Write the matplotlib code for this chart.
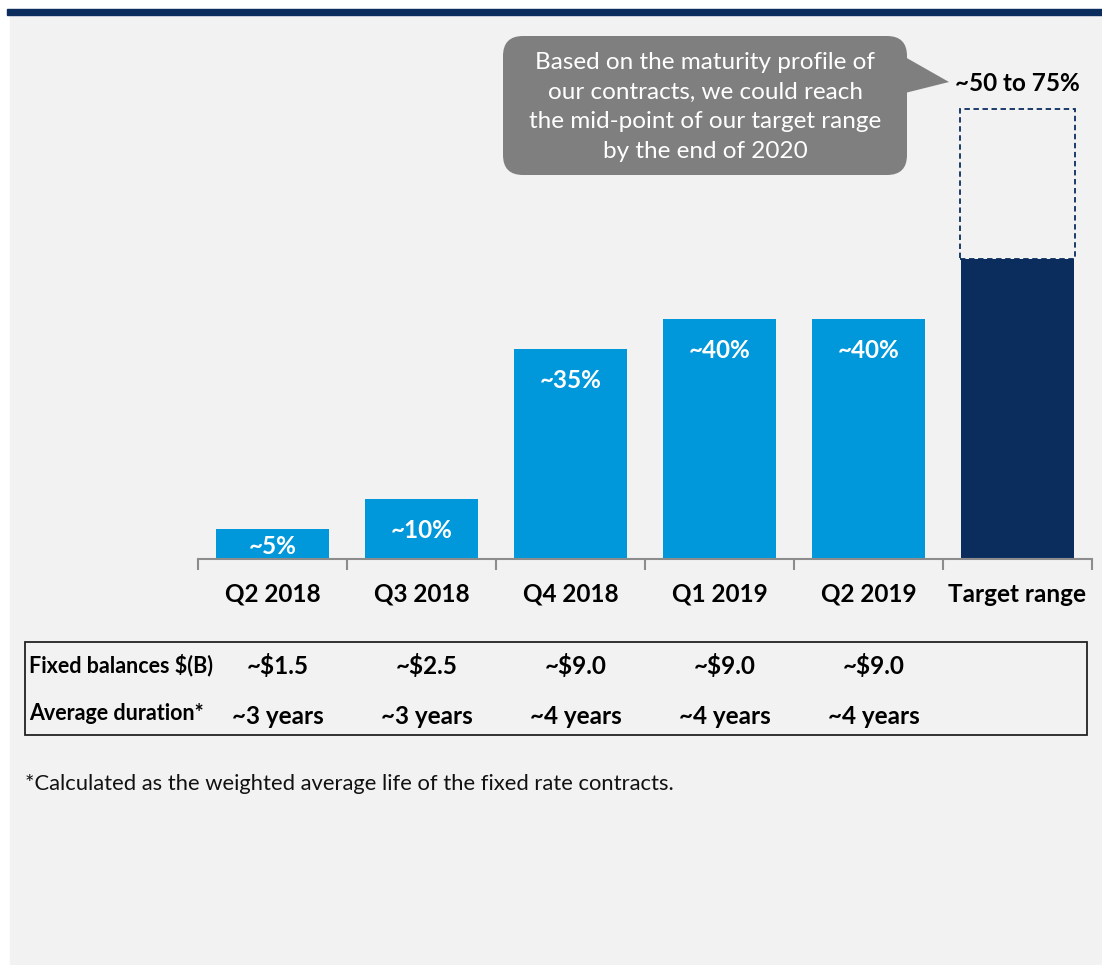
import matplotlib.pyplot as plt
from matplotlib.patches import FancyBboxPatch, Polygon, Rectangle
from matplotlib import transforms

plt.rcParams['font.family'] = ['Lato', 'DejaVu Sans']

# data
categories = ['Q2 2018', 'Q3 2018', 'Q4 2018', 'Q1 2019', 'Q2 2019', 'Target range']
values = [5, 10, 35, 40, 40, 50]
value_labels = ['~5%', '~10%', '~35%', '~40%', '~40%', '']
target_low = 50
target_high = 75
target_label = '~50 to 75%'
balances = ['~$1.5', '~$2.5', '~$9.0', '~$9.0', '~$9.0']
durations = ['~3 years', '~3 years', '~4 years', '~4 years', '~4 years']
callout = ('Based on the maturity profile of\nour contracts, we could reach\n'
           'the mid-point of our target range\nby the end of 2020')
footnote = '*Calculated as the weighted average life of the fixed rate contracts.'

LIGHT = '#0098da'
NAVY = '#0b2d5e'
BG = '#f2f2f2'
W, H = 1102, 965
FS = 17.5

fig = plt.figure(figsize=(W / 100, H / 100), dpi=100)
fig.patch.set_facecolor('white')

# overlay axes in pixel coordinates for the decorations
ov = fig.add_axes([0, 0, 1, 1])
ov.set_xlim(0, W)
ov.set_ylim(H, 0)
ov.axis('off')
ov.add_patch(Rectangle((10, 15), W - 10, H - 15, color=BG, zorder=0))
ov.add_patch(Rectangle((7, 9), W - 7, 6, color=NAVY, zorder=1))

# callout bubble
ov.add_patch(FancyBboxPatch((521, 54), 368, 103, boxstyle='round,pad=18,rounding_size=20',
                            facecolor='#7f7f7f', edgecolor='none', zorder=2))
ov.add_patch(Polygon([(905, 57), (949, 82), (905, 93)], closed=True,
                     facecolor='#7f7f7f', edgecolor='none', zorder=2))
ov.text(705, 107, callout, color='white', fontsize=FS, ha='center', va='center',
        linespacing=1.52, zorder=3)

# table frame and footnote
ov.add_patch(Rectangle((25, 642), 1062, 93, fill=False, edgecolor='#222222', lw=1.3, zorder=2))
ov.text(29, 665, 'Fixed balances $(B)', fontsize=15.5, fontweight='bold', ha='left', va='center')
ov.text(29, 713, 'Average duration*', fontsize=15.5, fontweight='bold', ha='left', va='center')
ov.text(25, 784, footnote, fontsize=15.8, ha='left', va='center', color='#111111')

# main chart
ax = fig.add_axes([198 / W, (H - 559) / H, 894 / W, 480 / H])
ax.patch.set_alpha(0)
x = list(range(len(categories)))
colors = [LIGHT] * 5 + [NAVY]
ax.bar(x, values, width=0.765, color=colors, zorder=2)
ax.bar(x[-1], target_high - target_low, bottom=target_low, width=0.775, fill=False,
       edgecolor=NAVY, linestyle=(0, (3, 2)), linewidth=1.3, zorder=2)

for i, (v, lab) in enumerate(zip(values, value_labels)):
    if lab:
        ax.text(i, max(v - 5.2, 2.0), lab, color='white', fontsize=FS, fontweight='bold',
                ha='center', va='center', zorder=3)
ax.text(x[-1], target_high + 4.2, target_label, fontsize=FS, fontweight='bold',
        ha='center', va='center')

ax.set_xlim(-0.5, 5.5)
ax.set_ylim(0, 80)
for s in ['top', 'right', 'left']:
    ax.spines[s].set_visible(False)
ax.spines['bottom'].set_color('#8c8c8c')
ax.spines['bottom'].set_linewidth(1.5)
ax.set_yticks([])
ax.set_xticks([i - 0.5 for i in range(len(categories) + 1)])
ax.set_xticklabels([])
ax.tick_params(axis='x', which='major', direction='out', length=8, width=1.5, color='#8c8c8c')
ax.set_xticks(x, minor=True)
ax.set_xticklabels(categories, minor=True, fontsize=FS, fontweight='bold')
ax.tick_params(axis='x', which='minor', length=0, pad=17)

# table values, x follows the bars, y in pixels
tr = transforms.blended_transform_factory(ax.transData, ov.transData)
for i, (b, d) in enumerate(zip(balances, durations)):
    ax.text(i + 0.035, 666, b, transform=tr, fontsize=FS, fontweight='bold',
            ha='center', va='center')
    ax.text(i + 0.035, 716, d, transform=tr, fontsize=FS, fontweight='bold',
            ha='center', va='center')

fig.savefig('out.png', dpi=100, facecolor=fig.get_facecolor())
